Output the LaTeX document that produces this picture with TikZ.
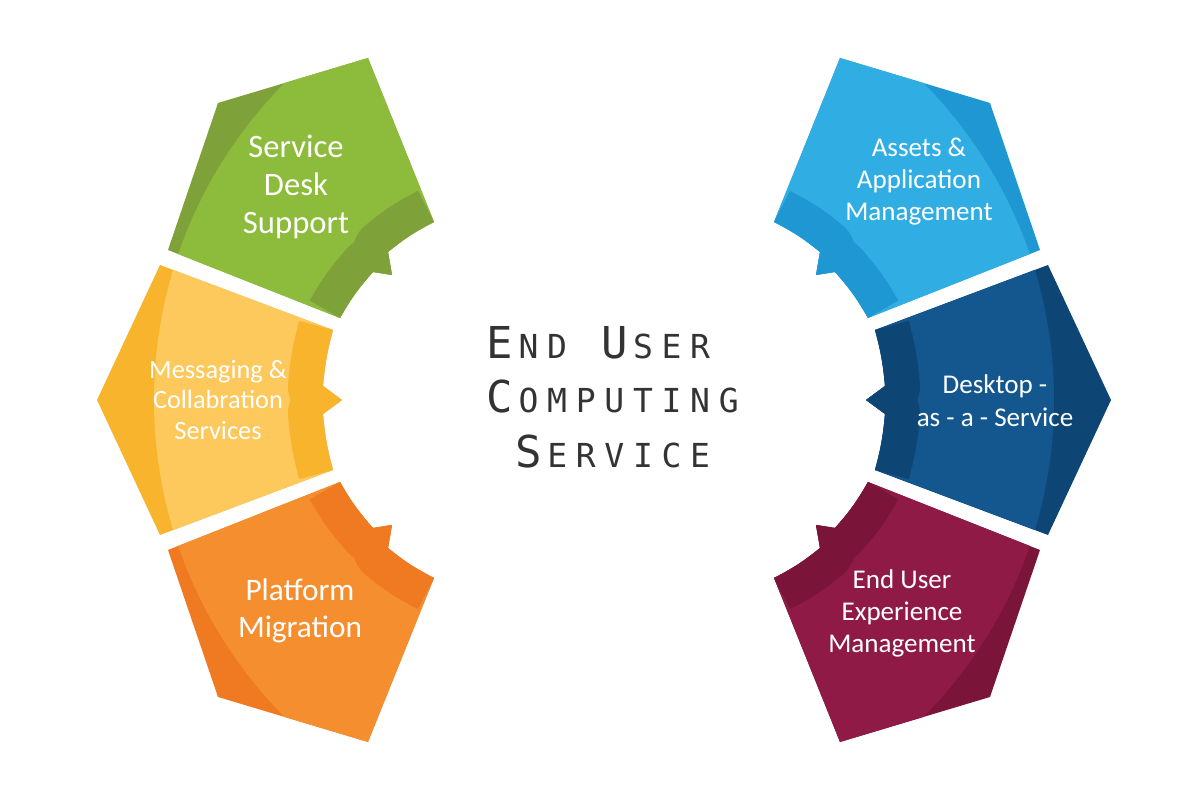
\documentclass[tikz,border=0pt]{standalone}
\usepackage{fontspec}
\setmainfont{Carlito}
\newfontfamily\titlefont{DejaVu Sans Mono}

\definecolor{greenmain}{HTML}{8DBB3B}
\definecolor{greendark}{HTML}{7FA13A}
\definecolor{yellowmain}{HTML}{FDC85C}
\definecolor{yellowdark}{HTML}{F7B42C}
\definecolor{orangemain}{HTML}{F58E2F}
\definecolor{orangedark}{HTML}{EF7A22}
\definecolor{bluemain}{HTML}{30AEE3}
\definecolor{bluedark}{HTML}{1F97D3}
\definecolor{navymain}{HTML}{13578E}
\definecolor{navydark}{HTML}{0D4675}
\definecolor{winemain}{HTML}{8E1A45}
\definecolor{winedark}{HTML}{7A1439}
\definecolor{titlegray}{HTML}{333333}

\def\greenshape{(1.68,5.50) -- (2.18,6.97) -- (3.68,7.42) -- (4.34,5.78) to[bend right=6] (3.88,5.48) -- (3.92,5.25) -- (3.73,5.28) to[bend right=6] (3.40,4.82) -- cycle}
\def\greenedge{(4.34,5.78) to[bend right=6] (3.88,5.48) -- (3.92,5.25) -- (3.73,5.28) to[bend right=6] (3.40,4.82)}
\def\yellowshape{(1.60,5.35) -- (3.33,4.70) to[bend right=5] (3.23,4.14) -- (3.42,4.00) -- (3.23,3.86) to[bend right=5] (3.33,3.30) -- (1.60,2.65) -- (0.97,4.00) -- cycle}
\def\yellowedge{(3.33,4.70) to[bend right=5] (3.23,4.14) -- (3.42,4.00) -- (3.23,3.86) to[bend right=5] (3.33,3.30)}

\newcommand{\piece}[5]{%
  \begin{scope}[#1]
    \fill[#3] #4;
    \begin{scope}
      \clip #4;
      \fill[#2] (6.04,4) circle (4.5);
      \draw[#3, line width=7mm, line join=round] #5;
    \end{scope}
  \end{scope}}

\newcommand{\titlech}[1]{\makebox[0.286cm]{#1}}
\newcommand{\bigch}[1]{\titlech{\fontsize{12.5}{14}\selectfont #1}}

\begin{document}
\begin{tikzpicture}[
    label/.style={text=white, align=center, inner sep=0pt},
    title/.style={text=titlegray, anchor=base west, inner sep=0pt, font=\titlefont\fontsize{9.4}{11}\selectfont}]
  \useasboundingbox (0,0) rectangle (12,8);
  \fill[white] (0,0) rectangle (12,8);

  \piece{}{greenmain}{greendark}{\greenshape}{\greenedge}
  \piece{yshift=8cm, yscale=-1}{orangemain}{orangedark}{\greenshape}{\greenedge}
  \piece{xshift=12.08cm, xscale=-1}{bluemain}{bluedark}{\greenshape}{\greenedge}
  \piece{xshift=12.08cm, xscale=-1, yshift=8cm, yscale=-1}{winemain}{winedark}{\greenshape}{\greenedge}
  \piece{}{yellowmain}{yellowdark}{\yellowshape}{\yellowedge}
  \piece{xshift=12.08cm, xscale=-1}{navymain}{navydark}{\yellowshape}{\yellowedge}

  \node[label, font=\fontsize{9.3}{10.8}\selectfont] (servicedesk) at (2.96,6.13) {Service\\Desk\\Support};
  \node[label, font=\fontsize{7.5}{8.6}\selectfont] (messaging) at (2.18,4.00) {Messaging \&\\Collabration\\Services};
  \node[label, font=\fontsize{8.9}{10.5}\selectfont] (platform) at (3.00,1.89) {Platform\\Migration};
  \node[label, font=\fontsize{7.7}{9.1}\selectfont] (assets) at (9.19,6.18) {Assets \&\\Application\\Management};
  \node[label, font=\fontsize{7.7}{9.3}\selectfont] (desktop) at (9.95,3.99) {Desktop -\\as - a - Service};
  \node[label, font=\fontsize{7.7}{9.1}\selectfont] (experience) at (9.02,1.87) {End User\\Experience\\Management};

  \node[title] (title1) at (4.85,4.41) {\bigch{E}\titlech{N}\titlech{D}\titlech{}\bigch{U}\titlech{S}\titlech{E}\titlech{R}};
  \node[title] (title2) at (4.85,3.87) {\bigch{C}\titlech{O}\titlech{M}\titlech{P}\titlech{U}\titlech{T}\titlech{I}\titlech{N}\titlech{G}};
  \node[title] (title3) at (4.85,3.32) {\titlech{}\bigch{S}\titlech{E}\titlech{R}\titlech{V}\titlech{I}\titlech{C}\titlech{E}};
\end{tikzpicture}
\end{document}
